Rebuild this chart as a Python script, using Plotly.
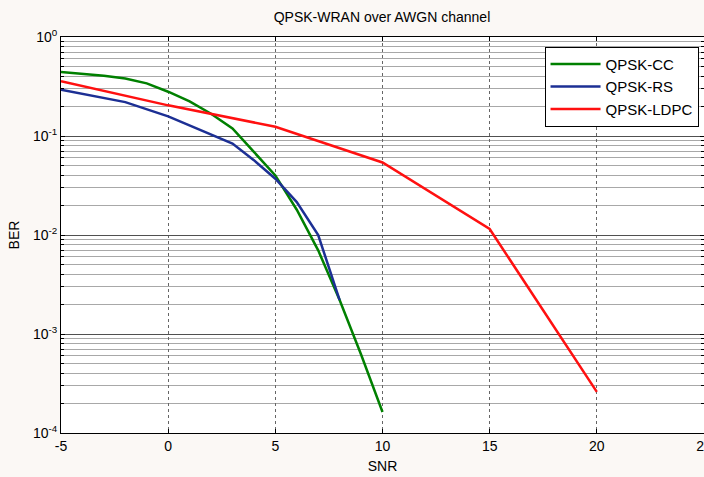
import plotly.graph_objects as go

# ---- data ----
snr_cc = [-5, -4, -3, -2, -1, 0, 1, 2, 3, 4, 5, 6, 7, 8, 9, 10]
ber_cc = [0.443, 0.425, 0.405, 0.38, 0.34, 0.28, 0.224, 0.168, 0.119, 0.069, 0.040,
          0.018, 0.0070, 0.0022, 0.00062, 0.000163]

snr_rs = [-5, -2, 0, 3, 4, 5, 6, 7, 8]
ber_rs = [0.294, 0.22, 0.158, 0.084, 0.057, 0.037, 0.0215, 0.010, 0.0022]

snr_ldpc = [-5, 0, 5, 10, 15, 20]
ber_ldpc = [0.357, 0.204, 0.124, 0.054, 0.0115, 0.00026]

x_ticks = [-5, 0, 5, 10, 15, 20, 25]
x_ticktext = ["-5", "0", "5", "10", "15", "20", "25"]
y_ticks = [1e-4, 1e-3, 1e-2, 1e-1, 1]
y_ticktext = ["10<sup>-4</sup>", "10<sup>-3</sup>", "10<sup>-2</sup>",
              "10<sup>-1</sup>", "10<sup>0</sup>"]
y_minor = [m * 10.0 ** e for e in range(-4, 0) for m in range(2, 10)]

series = [
    ("QPSK-CC", snr_cc, ber_cc, "#008000"),
    ("QPSK-RS", snr_rs, ber_rs, "#1c2f94"),
    ("QPSK-LDPC", snr_ldpc, ber_ldpc, "#ff1010"),
]

fig = go.Figure()
for name, xs, ys, col in series:
    fig.add_trace(go.Scatter(x=xs, y=ys, mode="lines", name=name,
                             line=dict(color=col, width=2.5)))

font_family = "Liberation Sans, Arial, sans-serif"

fig.update_layout(
    width=704, height=477,
    margin=dict(l=61, r=0, t=37, b=44, autoexpand=False),
    paper_bgcolor="#fbf8f5",
    plot_bgcolor="white",
    font=dict(family=font_family, size=14, color="black"),
    title=dict(text="QPSK-WRAN over AWGN channel", x=382 / 704, xanchor="center",
               y=1 - 17 / 477, yanchor="middle",
               font=dict(family=font_family, size=14, color="black")),
    showlegend=True,
    legend=dict(x=0.752, y=0.9755, xanchor="left", yanchor="top",
                bgcolor="white", bordercolor="black", borderwidth=1,
                itemwidth=50,
                font=dict(family=font_family, size=15, color="black")),
)

fig.update_xaxes(
    range=[-5, 25], tickmode="array", tickvals=x_ticks, ticktext=x_ticktext,
    ticklabeloverflow="allow", automargin=False,
    ticks="inside", ticklen=4, tickcolor="black",
    showline=True, linecolor="black", linewidth=1, mirror="ticks",
    showgrid=True, gridcolor="#666666", griddash="dot", gridwidth=1,
    zeroline=False,
    tickfont=dict(size=14),
    title=dict(text="SNR", font=dict(size=14), standoff=8),
)

fig.update_yaxes(
    type="log", range=[-4, 0], tickmode="array", tickvals=y_ticks, ticktext=y_ticktext,
    automargin=False,
    ticks="inside", ticklen=4, tickcolor="black",
    showline=True, linecolor="black", linewidth=1, mirror="ticks",
    showgrid=True, gridcolor="#505050", griddash="solid", gridwidth=1,
    zeroline=False,
    minor=dict(tickmode="array", tickvals=y_minor, ticks="inside", ticklen=3,
               tickcolor="black", showgrid=True, gridcolor="#a8a8a8",
               griddash="solid", gridwidth=1),
    tickfont=dict(size=14),
    title=dict(text="BER", font=dict(size=14), standoff=10),
)

fig.write_html("out.html")
